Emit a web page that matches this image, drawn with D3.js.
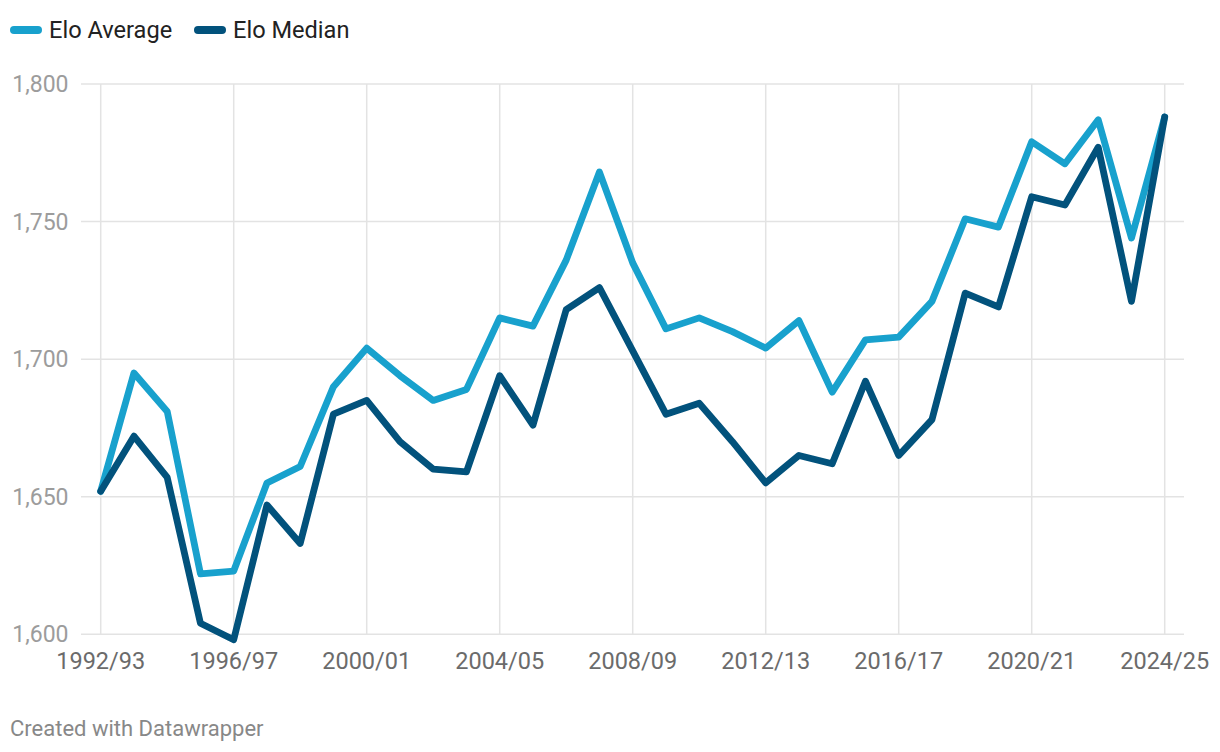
<!DOCTYPE html>
<html><head><meta charset="utf-8">
<script src="https://cdn.jsdelivr.net/npm/d3@7"></script>
<style>
body{margin:0;background:#fff;font-family:Roboto,"Noto Sans",sans-serif;}
svg{display:block}
</style></head><body>
<svg id="c" width="1220" height="752"></svg>
<script>
const seasons = ["1992/93","1993/94","1994/95","1995/96","1996/97","1997/98","1998/99","1999/00","2000/01","2001/02","2002/03","2003/04","2004/05","2005/06","2006/07","2007/08","2008/09","2009/10","2010/11","2011/12","2012/13","2013/14","2014/15","2015/16","2016/17","2017/18","2018/19","2019/20","2020/21","2021/22","2022/23","2023/24","2024/25"];
const eloAverage = [1652,1695,1681,1622,1623,1655,1661,1690,1704,1694,1685,1689,1715,1712,1736,1768,1735,1711,1715,1710,1704,1714,1688,1707,1708,1721,1751,1748,1779,1771,1787,1744,1788];
const eloMedian  = [1652,1672,1657,1604,1598,1647,1633,1680,1685,1670,1660,1659,1694,1676,1718,1726,1703,1680,1684,1670,1655,1665,1662,1692,1665,1678,1724,1719,1759,1756,1777,1721,1788];
const yTicks = [1600,1650,1700,1750,1800];
const xTickLabels = ["1992/93","1996/97","2000/01","2004/05","2008/09","2012/13","2016/17","2020/21","2024/25"];
const seriesNames = ["Elo Average","Elo Median"];
const seriesColors = ["#18a1cd","#02527c"];

const svg = d3.select("#c");
const x = d3.scalePoint().domain(seasons).range([100.7, 1164.7]);
const y = d3.scaleLinear().domain([1600,1800]).range([634.3, 84]);

// horizontal grid
svg.append("g").selectAll("line").data(yTicks).join("line")
  .attr("x1",81).attr("x2",1184)
  .attr("y1",d=>y(d)).attr("y2",d=>y(d))
  .attr("stroke","#e3e3e3").attr("stroke-width",1.5);
// vertical grid
svg.append("g").selectAll("line").data(xTickLabels).join("line")
  .attr("x1",d=>x(d)).attr("x2",d=>x(d))
  .attr("y1",y(1800)).attr("y2",y(1600))
  .attr("stroke","#e3e3e3").attr("stroke-width",1.5);

// y labels
svg.append("g").selectAll("text").data(yTicks).join("text")
  .attr("x",68.5).attr("y",d=>y(d)).attr("dy","0.35em")
  .attr("text-anchor","end")
  .attr("font-size",23).attr("fill","#9c9c9c")
  .text(d=>d3.format(",")(d));
// x labels
svg.append("g").selectAll("text").data(xTickLabels).join("text")
  .attr("x",d=>x(d)).attr("y",668.5)
  .attr("text-anchor","middle")
  .attr("font-size",23.5).attr("fill","#6b6b6b")
  .text(d=>d);

const line = d3.line().x((d,i)=>x(seasons[i])).y(d=>y(d));
[eloAverage, eloMedian].forEach((s,k)=>{
  svg.append("path").datum(s).attr("d",line)
    .attr("fill","none").attr("stroke",seriesColors[k])
    .attr("stroke-width",6.8).attr("stroke-linejoin","round").attr("stroke-linecap","round");
});

// legend
const legX = [14, 198];
seriesNames.forEach((n,k)=>{
  svg.append("line").attr("x1",legX[k]).attr("x2",legX[k]+24).attr("y1",30).attr("y2",30)
    .attr("stroke",seriesColors[k]).attr("stroke-width",8).attr("stroke-linecap","round");
  svg.append("text").attr("x",legX[k]+35).attr("y",37.5)
    .attr("font-size",23.6).attr("fill","#222").text(n);
});

svg.append("text").attr("x",10).attr("y",736)
  .attr("font-size",22).attr("fill","#888").text("Created with Datawrapper");
</script>
</body></html>
